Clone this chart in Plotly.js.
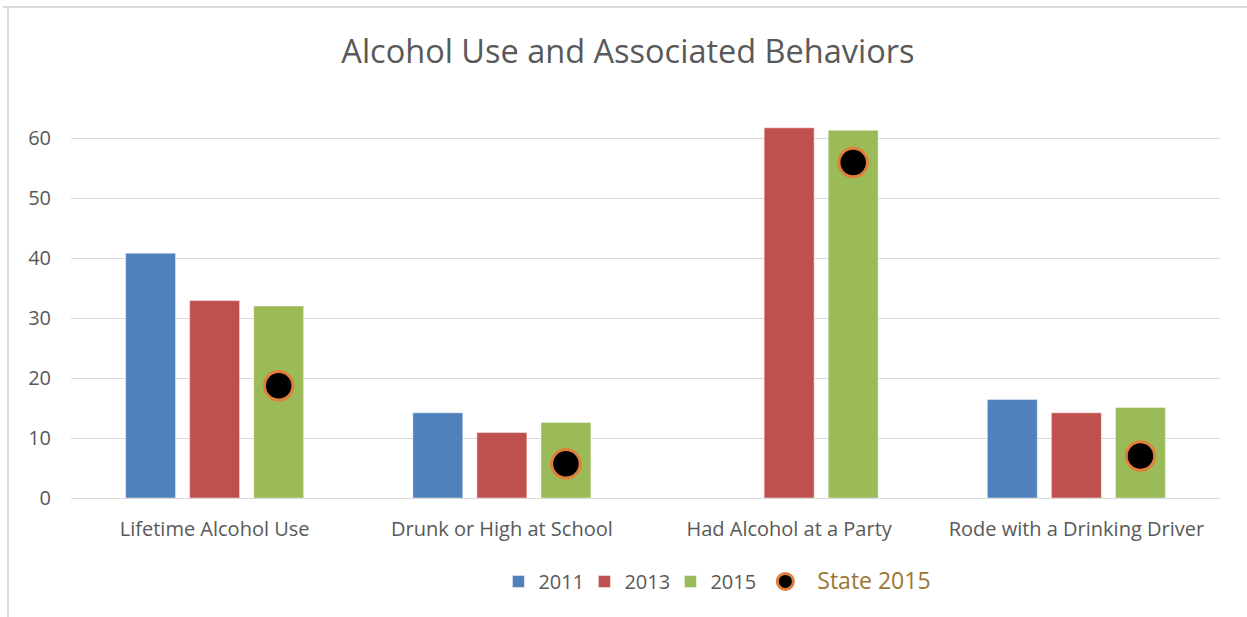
<!DOCTYPE html>
<html>
<head>
<meta charset="utf-8">
<script src="https://cdn.plot.ly/plotly-3.0.1.min.js"></script>
<style>
  html, body { margin: 0; padding: 0; background: #ffffff; }
  #wrap { position: relative; width: 1247px; height: 617px; overflow: hidden; }
  #chart { width: 1247px; height: 617px; }
  .frameTop { position: absolute; left: 3px; top: 6px; width: 1244px; height: 2px; background: #d9d9d9; pointer-events: none; }
  .frameLeft { position: absolute; left: 7px; top: 6px; width: 2px; height: 611px; background: #d9d9d9; pointer-events: none; }
</style>
</head>
<body>
<div id="wrap">
  <div id="chart"></div>
  <div class="frameTop"></div>
  <div class="frameLeft"></div>
</div>
<script>
// ---- data ----
const categories = ["Lifetime Alcohol Use", "Drunk or High at School", "Had Alcohol at a Party", "Rode with a Drinking Driver"];
const values2011 = [40.8, 14.2, null, 16.4];
const values2013 = [32.9, 10.9, 61.7, 14.2];
const values2015 = [32.0, 12.6, 61.3, 15.1];
const state2015 = [18.7, 5.7, 55.9, 7.0];
const seriesNames = ["2011", "2013", "2015", "State 2015"];
const yTicks = [0, 10, 20, 30, 40, 50, 60];

// ---- layout params ----
const bargap = 0.331;
const bargroupgap = 0.22;
const slot = (1 - bargap) / 3;             // width of one bar slot in category units
const markerX = categories.map((c, i) => i + slot); // centre of the third (2015) bar

const font = "'Open Sans', 'Liberation Sans', sans-serif";
const grey = "#595959";
const barLine = { color: "rgba(255,255,255,0.45)", width: 1 };

const traces = [
  { type: "bar", name: seriesNames[0], x: categories, y: values2011, marker: { color: "#4F81BD", line: barLine }, hoverinfo: "y+name" },
  { type: "bar", name: seriesNames[1], x: categories, y: values2013, marker: { color: "#C0504D", line: barLine }, hoverinfo: "y+name" },
  { type: "bar", name: seriesNames[2], x: categories, y: values2015, marker: { color: "#9BBB59", line: barLine }, hoverinfo: "y+name" },
  { type: "scatter", mode: "markers", legend: "legend2",
    name: '<span style="color:#9C7634;font-size:23px">\u00a0\u00a0' + seriesNames[3] + '</span>',
    x: markerX, y: state2015, xaxis: "x2",
    marker: { color: "#000000", size: 28.5, line: { color: "#E07F3C", width: 3 } }, hoverinfo: "y" }
];

const layout = {
  width: 1247, height: 617,
  paper_bgcolor: "#ffffff", plot_bgcolor: "#ffffff",
  margin: { l: 71, r: 27, t: 108, b: 119 },
  barmode: "group", bargap: bargap, bargroupgap: bargroupgap,
  font: { family: font, color: grey, size: 20 },
  title: { text: "Alcohol Use and Associated Behaviors", font: { family: font, size: 32.5, color: grey },
           x: 0.5036, xref: "container", xanchor: "center", y: 0.916, yref: "container", yanchor: "middle" },
  xaxis: { type: "category", range: [-0.5, 3.5], showgrid: false, showline: false, zeroline: false,
           ticks: "", tickfont: { size: 20, color: grey, family: font }, ticklabelstandoff: 17, fixedrange: true },
  xaxis2: { overlaying: "x", range: [-0.5, 3.5], visible: false, fixedrange: true },
  yaxis: { range: [0, 65], tickvals: yTicks, showgrid: true, gridcolor: "#D9D9D9", gridwidth: 1,
           zeroline: true, zerolinecolor: "#D9D9D9", zerolinewidth: 1, showline: false, ticks: "",
           tickfont: { size: 20, color: grey, family: font }, ticklabelstandoff: 19, fixedrange: true },
  showlegend: true,
  legend: { orientation: "h", x: 0.372, xanchor: "left", y: -0.214, yanchor: "middle",
            font: { size: 20, color: grey, family: font }, traceorder: "normal",
            itemwidth: 30, tracegroupgap: 0, entrywidth: 41, entrywidthmode: "pixels" },
  legend2: { orientation: "h", x: 0.6043, xanchor: "left", y: -0.214, yanchor: "middle",
             font: { size: 20, color: grey, family: font }, itemsizing: "trace", itemwidth: 30 }
};

Plotly.newPlot("chart", traces, layout, { displayModeBar: false, staticPlot: true });
</script>
</body>
</html>
